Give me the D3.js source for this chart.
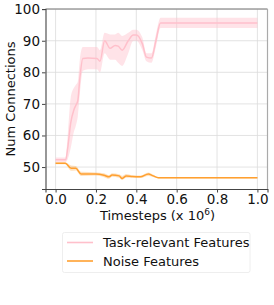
<!DOCTYPE html>
<html><head><meta charset="utf-8">
<script src="https://cdn.jsdelivr.net/npm/d3@7"></script>
<style>body{margin:0;background:#fff}svg{display:block}text{font-family:"DejaVu Sans",sans-serif}</style>
</head><body><svg id="c" width="274" height="305"></svg>
<script>
const xTicks = [0.0, 0.2, 0.4, 0.6, 0.8, 1.0];
const yTicks = [50, 60, 70, 80, 90, 100];
const seriesNames = ["Task-relevant Features", "Noise Features"];

const taskX    = [0, 0.05, 0.06, 0.075, 0.09, 0.1, 0.11, 0.12, 0.135, 0.16, 0.205, 0.22, 0.243, 0.27, 0.295, 0.31, 0.33, 0.36, 0.385, 0.4, 0.43, 0.45, 0.475, 0.497, 0.52, 0.6, 0.8, 1.0];
const taskMean = [52.3, 52.3, 56, 64, 68, 69.5, 71, 78, 84.4, 84.5, 84.4, 83.5, 90, 87.6, 88.5, 88.3, 87, 90, 91.8, 91.8, 89, 84.8, 84.5, 90, 95.6, 95.6, 95.6, 95.6];
const taskUp   = [53, 53, 60, 72, 75, 76, 77, 84, 88, 88, 88, 87, 92.5, 92, 92, 92.5, 91.5, 92.5, 93.5, 93.5, 91, 86, 86, 92, 97.3, 97.3, 97.3, 97.3];
const taskLo   = [51.6, 51.6, 52.5, 56, 61, 63, 66, 73, 80.5, 81, 81, 80, 86, 84, 84, 83, 82, 86, 90, 90, 87, 83.5, 83, 88, 94, 94, 94, 94];

const noiseX    = [0, 0.048, 0.077, 0.1, 0.126, 0.2, 0.24, 0.265, 0.28, 0.315, 0.33, 0.35, 0.38, 0.42, 0.46, 0.48, 0.51, 0.6, 0.8, 1.0];
const noiseMean = [51.2, 51.2, 49.6, 49.6, 47.8, 47.8, 47.4, 46.9, 47.5, 47.2, 46.4, 47.2, 47, 46.9, 47.8, 47.3, 46.6, 46.6, 46.6, 46.6];
const noiseUp   = [51.5, 51.5, 50.5, 50.3, 48.5, 48.3, 48, 47.4, 48, 47.7, 47.2, 47.8, 47.4, 47.3, 48.3, 47.7, 46.8, 46.8, 46.8, 46.8];
const noiseLo   = [50.9, 50.9, 48.8, 48.9, 47.2, 47.3, 46.8, 46.3, 46.9, 46.6, 45.9, 46.6, 46.6, 46.5, 47.2, 46.9, 46.4, 46.4, 46.4, 46.4];

const colors = ["#ffc0cb", "#ffa030"];

const svg = d3.select("#c");
const L = 45.5, R = 267.5, T = 9, B = 189;
const x = d3.scaleLinear().domain([-0.05, 1.05]).range([L, R]);
const y = d3.scaleLinear().domain([43.05, 100.05]).range([B, T]);

// grid
const g = svg.append("g");
g.selectAll(".gx").data(xTicks).join("line")
  .attr("x1", d => x(d)).attr("x2", d => x(d)).attr("y1", T).attr("y2", B)
  .attr("stroke", "#dcdcdc").attr("stroke-width", 0.8);
g.selectAll(".gy").data(yTicks).join("line")
  .attr("y1", d => y(d)).attr("y2", d => y(d)).attr("x1", L).attr("x2", R)
  .attr("stroke", "#dcdcdc").attr("stroke-width", 0.8);

function series(xs, mean, up, lo, col, bandOp, lw) {
  const pts = xs.map((d, i) => ({x: d, m: mean[i], u: up[i], l: lo[i]}));
  svg.append("path").datum(pts)
    .attr("d", d3.area().x(d => x(d.x)).y0(d => y(d.l)).y1(d => y(d.u)).curve(d3.curveMonotoneX))
    .attr("fill", col).attr("opacity", bandOp);
  svg.append("path").datum(pts)
    .attr("d", d3.line().x(d => x(d.x)).y(d => y(d.m)).curve(d3.curveMonotoneX))
    .attr("fill", "none").attr("stroke", col).attr("stroke-width", lw);
}
series(taskX, taskMean, taskUp, taskLo, colors[0], 0.45, 1.5);
series(noiseX, noiseMean, noiseUp, noiseLo, colors[1], 0.3, 1.5);

// spines
svg.append("line").attr("x1", L).attr("x2", R).attr("y1", T).attr("y2", T).attr("stroke", "#777").attr("stroke-width", 1);
svg.append("line").attr("x1", R).attr("x2", R).attr("y1", T).attr("y2", B).attr("stroke", "#aaa").attr("stroke-width", 1.2);

const xAxis = svg.append("g").attr("transform", `translate(0,${B})`)
  .call(d3.axisBottom(x).tickValues(xTicks).tickFormat(d3.format(".1f")).tickSize(3.5).tickPadding(2));
const yAxis = svg.append("g").attr("transform", `translate(${L},0)`)
  .call(d3.axisLeft(y).tickValues(yTicks).tickFormat(d3.format("d")).tickSize(3.5).tickPadding(2));
[xAxis, yAxis].forEach(a => {
  a.select(".domain").attr("stroke", "#444").attr("stroke-width", 1.1);
  a.selectAll(".tick line").attr("stroke", "#444");
  a.selectAll("text").attr("font-size", 13.5).attr("fill", "#111").attr("font-family", "DejaVu Sans");
});

// axis labels
const xl = svg.append("text").attr("x", (L + R) / 2 + 1).attr("y", 220).attr("text-anchor", "middle")
  .attr("font-size", 13).attr("fill", "#111");
xl.append("tspan").text("Timesteps (x 10");
xl.append("tspan").text("6").attr("font-size", 9).attr("dy", -5);
xl.append("tspan").text(")").attr("dy", 5);

svg.append("text").attr("transform", `translate(15,${(T + B) / 2}) rotate(-90)`)
  .attr("text-anchor", "middle").attr("font-size", 13).attr("fill", "#111").text("Num Connections");

// legend
const lg = svg.append("g");
lg.append("rect").attr("x", 62.5).attr("y", 232.5).attr("width", 187.5).attr("height", 40).attr("rx", 2)
  .attr("fill", "#fff").attr("stroke", "#eee").attr("stroke-width", 1);
seriesNames.forEach((n, i) => {
  const yy = 242.5 + i * 18.5;
  lg.append("line").attr("x1", 67).attr("x2", 93).attr("y1", yy).attr("y2", yy)
    .attr("stroke", colors[i]).attr("stroke-width", 1.6);
  lg.append("text").attr("x", 103).attr("y", yy + 4.8).attr("font-size", 13).attr("fill", "#111").text(n);
});
</script></body></html>
